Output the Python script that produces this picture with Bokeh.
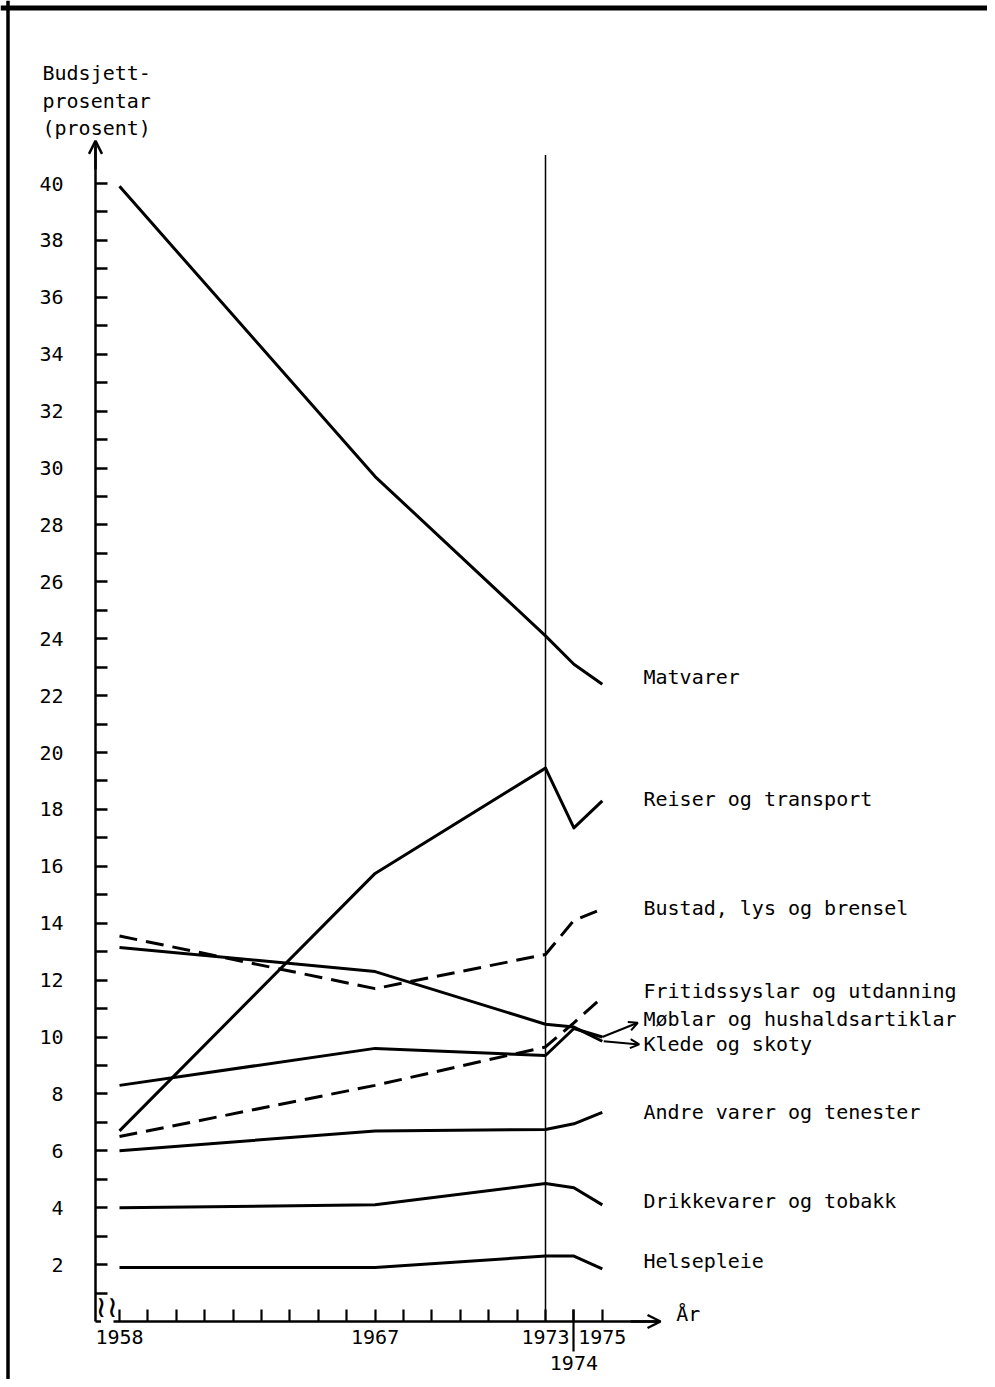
from bokeh.plotting import figure
from bokeh.models import LinearAxis, FixedTicker, Range1d, Arrow, OpenHead, Span, Label
from bokeh.core.properties import value
from bokeh.embed import file_html
from bokeh.resources import INLINE

# ---------------- data ----------------
years = [1958, 1967, 1973, 1974, 1975]
matvarer = [39.9, 29.7, 24.1, 23.1, 22.4]
reiser = [6.7, 15.75, 19.45, 17.35, 18.3]
bustad = [13.55, 11.7, 12.9, 14.1, 14.5]
fritid = [6.5, 8.3, 9.65, 10.5, 11.4]
moblar = [8.3, 9.6, 9.35, 10.3, 10.0]
klede = [13.15, 12.3, 10.45, 10.35, 9.85]
andre = [6.0, 6.7, 6.75, 6.95, 7.35]
drikke = [4.0, 4.1, 4.85, 4.7, 4.1]
helse = [1.9, 1.9, 2.3, 2.3, 1.85]

series_names = ["Matvarer", "Reiser og transport", "Bustad, lys og brensel",
                "Fritidssyslar og utdanning", "Møblar og hushaldsartiklar",
                "Klede og skoty", "Andre varer og tenester",
                "Drikkevarer og tobakk", "Helsepleie"]
series_values = [matvarer, reiser, bustad, fritid, moblar, klede, andre, drikke, helse]
series_dashed = [False, False, True, True, False, False, False, False, False]

y_ticks = list(range(1, 41))
y_tick_labels = {t: (str(t) if t % 2 == 0 else "") for t in y_ticks}
x_ticks = list(range(1958, 1976))
x_tick_labels = {t: (str(t) if t in (1958, 1967, 1973, 1975) else "") for t in x_ticks}
x_tick_second_row = [1974]
y_title = "Budsjett-\nprosentar\n(prosent)"
x_title = "År"

# ---------------- layout / styling ----------------
W, H = 987, 1379
PXY = 28.4    # pixels per year
PXV = 28.45   # pixels per percent
x_start = 1958 - 119 / PXY
y_start = -(H - 1321) / PXV
FONT = "DejaVu Sans Mono"
FS = "20px"
LW = 3

p = figure(width=W, height=H, output_backend="svg", toolbar_location=None,
           x_axis_type=None, y_axis_type=None,
           x_range=Range1d(x_start, x_start + W / PXY),
           y_range=Range1d(y_start, y_start + H / PXV),
           min_border=0, outline_line_color=None, background_fill_color="white",
           border_fill_color="white")

# page frame (top and left edges)
p.add_layout(Span(location=y_start + (H - 7.5) / PXV, dimension="width",
                  line_color="black", line_width=5))
p.add_layout(Span(location=x_start + 7.5 / PXY, dimension="height",
                  line_color="black", line_width=3.5))

y_axis_x = 1958 - 24 / PXY
yax = LinearAxis(fixed_location=y_axis_x, bounds=(0, 41.3),
                 ticker=FixedTicker(ticks=y_ticks, minor_ticks=[]),
                 major_label_overrides=y_tick_labels,
                 major_tick_in=12, major_tick_out=0, minor_tick_in=0, minor_tick_out=0,
                 axis_line_width=2.5, major_tick_line_width=2.5,
                 major_label_standoff=32,
                 major_label_text_font=FONT, major_label_text_font_size=FS,
                 major_label_text_color="black")
p.add_layout(yax, "left")

xax = LinearAxis(fixed_location=0, bounds=(1957.8, 1977.0),
                 ticker=FixedTicker(ticks=x_ticks, minor_ticks=[]),
                 major_label_overrides=x_tick_labels,
                 major_tick_in=12, major_tick_out=0, minor_tick_in=0, minor_tick_out=0,
                 axis_line_width=2.5, major_tick_line_width=2.2,
                 major_label_standoff=8,
                 major_label_text_font=FONT, major_label_text_font_size=FS,
                 major_label_text_color="black")
p.add_layout(xax, "below")

xax2 = LinearAxis(fixed_location=0, bounds=(1974, 1974),
                  ticker=FixedTicker(ticks=x_tick_second_row, minor_ticks=[]),
                  major_tick_in=12, major_tick_out=30, minor_tick_in=0, minor_tick_out=0,
                  axis_line_alpha=0, major_tick_line_width=2.2,
                  major_label_standoff=4,
                  major_label_text_font=FONT, major_label_text_font_size=FS,
                  major_label_text_color="black")
p.add_layout(xax2, "below")

# axis arrow heads
p.add_layout(Arrow(end=OpenHead(size=13, line_width=2.5), line_width=2.5,
                   x_start=y_axis_x, y_start=40.5, x_end=y_axis_x, y_end=41.5))
p.add_layout(Arrow(end=OpenHead(size=13, line_width=2.5), line_width=2.5,
                   x_start=1976.0, y_start=0, x_end=1977.05, y_end=0))

# axis break at the origin
p.segment(x0=[y_axis_x], y0=[0], x1=[1957.35], y1=[0], line_width=2.5, line_color="black")
p.text(x=[1957.55], y=[-0.1], text=["≀≀"], text_font=value("DejaVu Sans"),
       text_font_size="30px", text_align="center", text_baseline="bottom",
       text_color="black")

# reference line at 1973
p.segment(x0=[1973], y0=[0], x1=[1973], y1=[41.0], line_width=1.5, line_color="black")

# series
for vals, dashed in zip(series_values, series_dashed):
    p.line(years, vals, line_width=LW, line_color="black",
           line_dash="18 9" if dashed else "solid", line_join="round")

# series labels
label_x = 1958 + (643 - 119) / PXY
label_y = [22.64, 18.35, 14.52, 11.60, 10.62, 9.77, 7.35, 4.22, 2.11]
p.text(x=[label_x] * len(series_names), y=label_y, text=series_names,
       text_font=value(FONT), text_font_size=FS, text_baseline="middle",
       text_align="left", text_color="black")

# pointer arrows for the two crowded labels
p.add_layout(Arrow(end=OpenHead(size=9, line_width=2), line_width=2,
                   x_start=years[-1], y_start=moblar[-1], x_end=1976.25, y_end=10.5))
p.add_layout(Arrow(end=OpenHead(size=9, line_width=2), line_width=2,
                   x_start=years[-1] + 0.05, y_start=klede[-1], x_end=1976.3, y_end=9.74))

# titles
p.add_layout(Label(x=1958 - 77 / PXY, y=44.3, text=y_title, text_font=FONT,
                   text_font_size=FS, text_baseline="top", text_line_height=1.15,
                   text_color="black"))
p.text(x=[1977.6], y=[0.25], text=[x_title], text_font=value(FONT),
       text_font_size=FS, text_baseline="middle", text_align="left", text_color="black")

open("out.html", "w").write(file_html(p, INLINE))
